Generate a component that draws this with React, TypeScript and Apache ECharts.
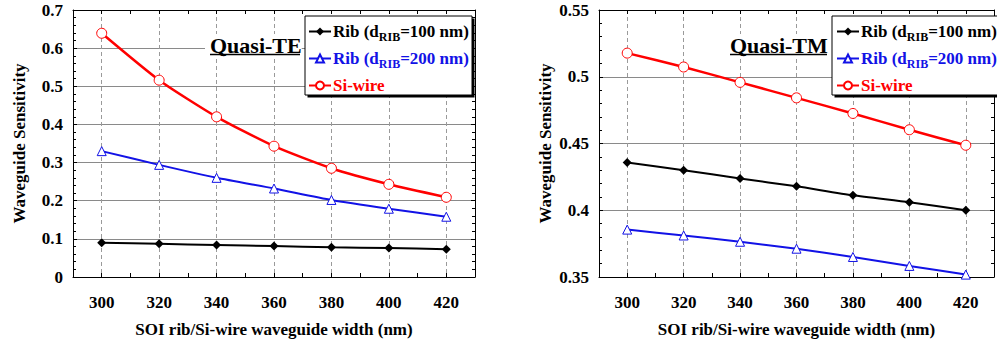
import React, { useEffect, useRef } from "react";
import * as echarts from "echarts";

const widths = [300, 320, 340, 360, 380, 400, 420];

// Quasi-TE
const teRib100 = [0.090, 0.087, 0.084, 0.081, 0.078, 0.076, 0.073];
const teRib200 = [0.330, 0.294, 0.260, 0.232, 0.202, 0.179, 0.158];
const teSiWire = [0.639, 0.516, 0.420, 0.343, 0.285, 0.243, 0.209];

// Quasi-TM
const tmRib100 = [0.4358, 0.4300, 0.4238, 0.4179, 0.4112, 0.4060, 0.4000];
const tmRib200 = [0.3855, 0.3811, 0.3764, 0.3712, 0.3650, 0.3583, 0.3518];
const tmSiWire = [0.5177, 0.5073, 0.4958, 0.4842, 0.4725, 0.4603, 0.4487];

const xLabelValues = [300, 320, 340, 360, 380, 400, 420];

const FONT = "Liberation Serif";
const BLUE = "#1212e6";
const RED = "#ff0000";

const NAME1 = "Rib (dRIB=100 nm)";
const NAME2 = "Rib (dRIB=200 nm)";
const NAME3 = "Si-wire";

function pairs(vals: number[]) {
  return widths.map((x, i) => [x, vals[i]]);
}

function makeX(gridIndex: number, main: boolean) {
  return {
    type: "value",
    gridIndex,
    position: main ? "bottom" : "top",
    min: 290,
    max: 430,
    interval: 10,
    axisLine: { show: true, onZero: false, lineStyle: { color: "#000", width: 1 } },
    axisTick: { show: true, inside: true, length: 4, lineStyle: { color: "#000" } },
    axisLabel: main
      ? {
          show: true,
          margin: 17,
          fontSize: 17,
          fontWeight: "bold",
          fontFamily: FONT,
          color: "#000",
          formatter: (v: number) => (xLabelValues.indexOf(Math.round(v)) >= 0 ? String(Math.round(v)) : ""),
        }
      : { show: false },
    splitLine: main
      ? { show: true, lineStyle: { color: ["rgba(0,0,0,0)", "#9a9a9a"], type: [4, 3], width: 1 } }
      : { show: false },
    name: main ? "SOI rib/Si-wire waveguide width (nm)" : "",
    nameLocation: "middle",
    nameGap: 44,
    nameTextStyle: { fontSize: 17, fontWeight: "bold", fontFamily: FONT, color: "#000" },
  };
}

function makeY(gridIndex: number, main: boolean, min: number, max: number, interval: number) {
  return {
    type: "value",
    gridIndex,
    position: main ? "left" : "right",
    min,
    max,
    interval,
    axisLine: { show: true, onZero: false, lineStyle: { color: "#000", width: 1 } },
    axisTick: { show: true, inside: true, length: 4, lineStyle: { color: "#000" } },
    minorTick: { show: true, splitNumber: 5, length: 3, lineStyle: { color: "#000" } },
    axisLabel: main
      ? { show: true, margin: 10, fontSize: 17, fontWeight: "bold", fontFamily: FONT, color: "#000" }
      : { show: false },
    splitLine: main ? { show: true, lineStyle: { color: "#8a8a8a", width: 1 } } : { show: false },
    name: main ? "Waveguide Sensitivity" : "",
    nameLocation: "middle",
    nameGap: 45,
    nameRotate: 90,
    nameTextStyle: { fontSize: 17, fontWeight: "bold", fontFamily: FONT, color: "#000" },
  };
}

function makeSeries(grid: number, vals: number[][]) {
  const [a, b, c] = vals;
  const axes = { xAxisIndex: grid * 2, yAxisIndex: grid * 2 };
  return [
    {
      type: "line",
      name: NAME1,
      ...axes,
      data: pairs(a),
      symbol: "diamond",
      symbolSize: 9,
      smooth: 0.2,
      z: 3,
      itemStyle: { color: "#000" },
      lineStyle: { color: "#000", width: 2 },
    },
    {
      type: "line",
      name: NAME2,
      ...axes,
      data: pairs(b),
      symbol: "triangle",
      symbolSize: 9,
      smooth: 0.2,
      z: 3,
      itemStyle: { color: "#fff", borderColor: BLUE, borderWidth: 1 },
      lineStyle: { color: BLUE, width: 2 },
    },
    {
      type: "line",
      name: NAME3,
      ...axes,
      data: pairs(c),
      symbol: "circle",
      symbolSize: 10,
      smooth: 0.2,
      z: 3,
      itemStyle: { color: "#fff", borderColor: RED, borderWidth: 1 },
      lineStyle: { color: RED, width: 2.5 },
    },
  ];
}

const legendRich = {
  a0: { fontSize: 17, fontWeight: "bold", fontFamily: FONT, color: "#000", lineHeight: 22 },
  s0: { fontSize: 12, fontWeight: "bold", fontFamily: FONT, color: "#000", verticalAlign: "bottom", padding: [9, 0, 0, 0] },
  a1: { fontSize: 17, fontWeight: "bold", fontFamily: FONT, color: BLUE, lineHeight: 22 },
  s1: { fontSize: 12, fontWeight: "bold", fontFamily: FONT, color: BLUE, verticalAlign: "bottom", padding: [9, 0, 0, 0] },
  a2: { fontSize: 17, fontWeight: "bold", fontFamily: FONT, color: RED, lineHeight: 22 },
};

function legendFormatter(name: string) {
  if (name === NAME1) return "{a0|Rib (d}{s0|RIB}{a0|=100 nm)}";
  if (name === NAME2) return "{a1|Rib (d}{s1|RIB}{a1|=200 nm)}";
  return "{a2|Si-wire}";
}

function makeLegend(left: number) {
  return {
    show: true,
    orient: "vertical",
    left,
    top: 23,
    padding: 0,
    itemWidth: 22,
    itemHeight: 10,
    itemGap: 7.5,
    z: 10,
    selectedMode: false,
    data: [NAME1, NAME2, NAME3],
    formatter: legendFormatter,
    textStyle: { fontSize: 17, fontWeight: "bold", fontFamily: FONT, rich: legendRich, padding: [0, 0, 0, -3] },
  };
}

function legendBox(x: number, w: number) {
  return [
    { type: "rect", z: 8, shape: { x: x + 2.5, y: 18.5, width: w, height: 79 }, style: { fill: "#000" } },
    { type: "rect", z: 9, shape: { x, y: 16, width: w, height: 79 }, style: { fill: "#fff", stroke: "#000", lineWidth: 1 } },
  ];
}

function title(text: string, x: number, width: number) {
  return [
    {
      type: "text",
      z: 9,
      x,
      y: 34,
      style: {
        text,
        fontSize: 22,
        fontWeight: "bold",
        fontFamily: FONT,
        fill: "#000",
        backgroundColor: "#fff",
        padding: [0, 0, 0, 5],
      },
    },
    {
      type: "line",
      z: 9,
      shape: { x1: x + 5, y1: 54.5, x2: x + 5 + width, y2: 54.5 },
      style: { stroke: "#000", lineWidth: 1.5 },
    },
  ];
}

export default function App() {
  const ref = useRef<HTMLDivElement>(null);
  useEffect(() => {
    if (!ref.current) return;
    const chart = echarts.init(ref.current, undefined, { renderer: "svg" });
    chart.setOption({
      animation: false,
      backgroundColor: "#fff",
      textStyle: { fontFamily: FONT },
      grid: [
        { left: 73, top: 10, width: 402, height: 267 },
        { left: 599, top: 10, width: 402, height: 268 },
      ],
      xAxis: [makeX(0, true), makeX(0, false), makeX(1, true), makeX(1, false)],
      yAxis: [
        makeY(0, true, 0, 0.7, 0.1),
        makeY(0, false, 0, 0.7, 0.1),
        makeY(1, true, 0.35, 0.55, 0.05),
        makeY(1, false, 0.35, 0.55, 0.05),
      ],
      legend: [makeLegend(308), makeLegend(836)],
      graphic: [
        ...legendBox(305, 167),
        ...legendBox(832, 170),
        ...title("Quasi-TE", 205, 90),
        ...title("Quasi-TM", 725, 97),
      ],
      series: [
        ...makeSeries(0, [teRib100, teRib200, teSiWire]),
        ...makeSeries(1, [tmRib100, tmRib200, tmSiWire]),
      ],
    });
    return () => chart.dispose();
  }, []);
  return <div ref={ref} style={{ position: "fixed", left: 0, top: 0, width: 997, height: 343 }} />;
}
